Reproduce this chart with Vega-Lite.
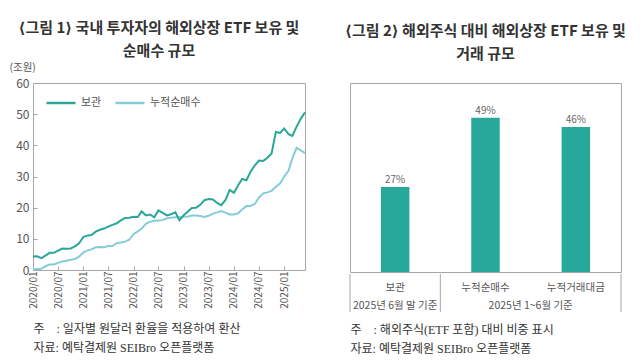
{
  "$schema": "https://vega.github.io/schema/vega-lite/v6.json",
  "background": "white",
  "padding": {"left": 8, "top": 20, "right": 4, "bottom": 4},
  "config": {
    "font": "Noto Sans CJK KR",
    "view": {"stroke": "#a6a6a6", "strokeWidth": 1},
    "axis": {"domain": false, "grid": false, "labelColor": "#555", "titleColor": "#555", "tickColor": "#a6a6a6"}
  },
  "spacing": 35,
  "hconcat": [
    {
      "title": {
        "text": ["⟨그림 1⟩ 국내 투자자의 해외상장 ETF 보유 및", "순매수 규모"],
        "font": "Noto Sans CJK KR, DejaVu Sans",
        "fontSize": 15, "fontWeight": "bold", "color": "#333", "lineHeight": 23,
        "anchor": "middle", "frame": "bounds", "offset": 3
      },
      "width": 272,
      "height": 187,
      "data": {"values": [
        {"month": "2020-01-01", "보관": 4.3, "누적순매수": 0.2},
        {"month": "2020-02-01", "보관": 4.4, "누적순매수": 0.3},
        {"month": "2020-03-01", "보관": 3.8, "누적순매수": 0.4},
        {"month": "2020-04-01", "보관": 4.6, "누적순매수": 1.2},
        {"month": "2020-05-01", "보관": 5.5, "누적순매수": 1.8},
        {"month": "2020-06-01", "보관": 5.5, "누적순매수": 1.8},
        {"month": "2020-07-01", "보관": 6.2, "누적순매수": 2.3},
        {"month": "2020-08-01", "보관": 6.9, "누적순매수": 2.7},
        {"month": "2020-09-01", "보관": 6.8, "누적순매수": 3.0},
        {"month": "2020-10-01", "보관": 6.9, "누적순매수": 3.3},
        {"month": "2020-11-01", "보관": 7.6, "누적순매수": 3.5},
        {"month": "2020-12-01", "보관": 8.6, "누적순매수": 4.3},
        {"month": "2021-01-01", "보관": 10.6, "누적순매수": 5.6},
        {"month": "2021-02-01", "보관": 11.1, "누적순매수": 6.3},
        {"month": "2021-03-01", "보관": 11.2, "누적순매수": 6.6},
        {"month": "2021-04-01", "보관": 12.3, "누적순매수": 7.3},
        {"month": "2021-05-01", "보관": 12.9, "누적순매수": 7.4},
        {"month": "2021-06-01", "보관": 13.3, "누적순매수": 7.3},
        {"month": "2021-07-01", "보관": 13.9, "누적순매수": 7.7},
        {"month": "2021-08-01", "보관": 14.5, "누적순매수": 7.7},
        {"month": "2021-09-01", "보관": 15.0, "누적순매수": 8.6},
        {"month": "2021-10-01", "보관": 15.9, "누적순매수": 8.8},
        {"month": "2021-11-01", "보관": 16.7, "누적순매수": 9.1},
        {"month": "2021-12-01", "보관": 16.8, "누적순매수": 9.7},
        {"month": "2022-01-01", "보관": 17.1, "누적순매수": 11.5},
        {"month": "2022-02-01", "보관": 17.0, "누적순매수": 12.4},
        {"month": "2022-03-01", "보관": 18.8, "누적순매수": 13.3},
        {"month": "2022-04-01", "보관": 17.5, "누적순매수": 14.8},
        {"month": "2022-05-01", "보관": 17.8, "누적순매수": 15.5},
        {"month": "2022-06-01", "보관": 16.9, "누적순매수": 15.8},
        {"month": "2022-07-01", "보관": 19.1, "누적순매수": 15.9},
        {"month": "2022-08-01", "보관": 18.3, "누적순매수": 16.0},
        {"month": "2022-09-01", "보관": 17.5, "누적순매수": 16.6},
        {"month": "2022-10-01", "보관": 17.9, "누적순매수": 16.8},
        {"month": "2022-11-01", "보관": 18.5, "누적순매수": 16.9},
        {"month": "2022-12-01", "보관": 16.0, "누적순매수": 16.9},
        {"month": "2023-01-01", "보관": 17.6, "누적순매수": 17.1},
        {"month": "2023-02-01", "보관": 18.8, "누적순매수": 17.2},
        {"month": "2023-03-01", "보관": 19.9, "누적순매수": 17.5},
        {"month": "2023-04-01", "보관": 20.0, "누적순매수": 17.5},
        {"month": "2023-05-01", "보관": 20.9, "누적순매수": 17.3},
        {"month": "2023-06-01", "보관": 22.4, "누적순매수": 17.0},
        {"month": "2023-07-01", "보관": 22.8, "누적순매수": 17.4},
        {"month": "2023-08-01", "보관": 22.6, "누적순매수": 18.1},
        {"month": "2023-09-01", "보관": 21.5, "누적순매수": 18.5},
        {"month": "2023-10-01", "보관": 20.8, "누적순매수": 18.9},
        {"month": "2023-11-01", "보관": 22.5, "누적순매수": 18.4},
        {"month": "2023-12-01", "보관": 25.7, "누적순매수": 17.8},
        {"month": "2024-01-01", "보관": 24.8, "누적순매수": 17.8},
        {"month": "2024-02-01", "보관": 27.2, "누적순매수": 18.2},
        {"month": "2024-03-01", "보관": 29.2, "누적순매수": 19.4},
        {"month": "2024-04-01", "보관": 28.8, "누적순매수": 20.5},
        {"month": "2024-05-01", "보관": 31.5, "누적순매수": 20.5},
        {"month": "2024-06-01", "보관": 33.6, "누적순매수": 21.2},
        {"month": "2024-07-01", "보관": 35.1, "누적순매수": 23.2},
        {"month": "2024-08-01", "보관": 35.0, "누적순매수": 24.6},
        {"month": "2024-09-01", "보관": 36.0, "누적순매수": 24.9},
        {"month": "2024-10-01", "보관": 37.4, "누적순매수": 25.4},
        {"month": "2024-11-01", "보관": 44.3, "누적순매수": 26.7},
        {"month": "2024-12-01", "보관": 44.0, "누적순매수": 27.7},
        {"month": "2025-01-01", "보관": 45.4, "누적순매수": 30.0},
        {"month": "2025-02-01", "보관": 43.6, "누적순매수": 31.8},
        {"month": "2025-03-01", "보관": 43.0, "누적순매수": 35.8},
        {"month": "2025-04-01", "보관": 46.0, "누적순매수": 39.2},
        {"month": "2025-05-01", "보관": 48.5, "누적순매수": 38.4},
        {"month": "2025-06-01", "보관": 50.6, "누적순매수": 37.5}
      ]},
      "transform": [{"fold": ["누적순매수", "보관"], "as": ["series", "value"]}],
      "mark": {"type": "line", "strokeWidth": 2},
      "encoding": {
        "x": {
          "field": "month", "type": "temporal",
          "scale": {"type": "utc", "domain": [
            {"year": 2020, "month": 1, "date": 1, "utc": true},
            {"year": 2025, "month": 6, "date": 1, "utc": true}
          ]},
          "axis": {
            "values": [
              {"year": 2020, "month": 1, "date": 1, "utc": true},
              {"year": 2020, "month": 7, "date": 1, "utc": true},
              {"year": 2021, "month": 1, "date": 1, "utc": true},
              {"year": 2021, "month": 7, "date": 1, "utc": true},
              {"year": 2022, "month": 1, "date": 1, "utc": true},
              {"year": 2022, "month": 7, "date": 1, "utc": true},
              {"year": 2023, "month": 1, "date": 1, "utc": true},
              {"year": 2023, "month": 7, "date": 1, "utc": true},
              {"year": 2024, "month": 1, "date": 1, "utc": true},
              {"year": 2024, "month": 7, "date": 1, "utc": true},
              {"year": 2025, "month": 1, "date": 1, "utc": true}
            ],
            "labelExpr": "utcFormat(datum.value, '%Y/%m')",
            "labelAngle": -90, "labelFontSize": 10, "labelPadding": 5,
            "tickSize": -4, "labelFlush": false, "labelOverlap": false,
            "title": ["주\u00a0\u00a0\u00a0\u00a0: 일자별 원달러 환율을 적용하여 환산", "자료: 예탁결제원 SEIBro 오픈플랫폼"],
            "titleAnchor": "start", "titleAlign": "left", "titleFontSize": 12,
            "titleFontWeight": "normal", "titleColor": "#333", "titleLineHeight": 19,
            "titlePadding": 15, "titleFont": "Liberation Serif, Noto Sans CJK KR"
          }
        },
        "y": {
          "field": "value", "type": "quantitative",
          "scale": {"domain": [0, 60], "nice": false},
          "axis": {
            "values": [0, 10, 20, 30, 40, 50, 60],
            "labelFontSize": 12, "labelPadding": 8, "tickSize": -4,
            "title": "(조원)", "titleAngle": 0, "titleX": -24, "titleY": -16,
            "titleAlign": "left", "titleBaseline": "middle",
            "titleFontSize": 10.5, "titleFontWeight": "normal"
          }
        },
        "color": {
          "field": "series", "type": "nominal",
          "scale": {"domain": ["보관", "누적순매수"], "range": ["#2aa69a", "#84cdd8"]},
          "legend": {
            "orient": "none", "legendX": 12, "legendY": 4, "direction": "horizontal",
            "title": null, "symbolType": "stroke", "symbolSize": 841, "symbolStrokeWidth": 2.5,
            "labelFontSize": 11, "labelColor": "#555", "columnPadding": 8, "labelOffset": 4
          }
        }
      }
    },
    {
      "title": {
        "text": ["⟨그림 2⟩ 해외주식 대비 해외상장 ETF 보유 및", "거래 규모"],
        "font": "Noto Sans CJK KR, DejaVu Sans",
        "fontSize": 15, "fontWeight": "bold", "color": "#333", "lineHeight": 23,
        "anchor": "middle", "offset": 21
      },
      "spacing": 0,
      "vconcat": [
        {
          "width": 271,
          "height": 189,
          "data": {"values": [
            {"category": "보관", "share": 0.27},
            {"category": "누적순매수", "share": 0.49},
            {"category": "누적거래대금", "share": 0.46}
          ]},
          "encoding": {
            "x": {"field": "category", "type": "nominal", "sort": null,
                  "scale": {"paddingInner": 0, "paddingOuter": 0}, "axis": null},
            "y": {"field": "share", "type": "quantitative",
                  "scale": {"domain": [0, 0.6], "nice": false}, "axis": null}
          },
          "layer": [
            {"mark": {"type": "bar", "color": "#28a89b", "size": 28.5}},
            {"mark": {"type": "text", "dy": -7, "fontSize": 10, "color": "#666"},
             "encoding": {"text": {"field": "share", "type": "quantitative", "format": ".0%"}}}
          ]
        },
        {
          "width": 271,
          "height": 38,
          "view": {"stroke": null},
          "layer": [
            {
              "data": {"values": [{"edge": 0}, {"edge": 1}, {"edge": 3}]},
              "mark": {"type": "rule", "color": "#a6a6a6"},
              "encoding": {
                "x": {"field": "edge", "type": "quantitative", "scale": {"domain": [0, 3], "nice": false},
                  "axis": {
                    "domain": false, "ticks": false, "labels": false,
                    "title": ["주\u00a0\u00a0\u00a0\u00a0: 해외주식(ETF 포함) 대비 비중 표시", "자료: 예탁결제원 SEIBro 오픈플랫폼"],
                    "titleAnchor": "start", "titleAlign": "left", "titleFontSize": 12,
                    "titleFontWeight": "normal", "titleColor": "#333", "titleLineHeight": 19,
                    "titlePadding": 12, "titleFont": "Liberation Serif, Noto Sans CJK KR"
                  }
                }
              }
            },
            {
              "data": {"values": [
                {"column": 0.5, "row": 1, "label": "보관"},
                {"column": 1.5, "row": 1, "label": "누적순매수"},
                {"column": 2.5, "row": 1, "label": "누적거래대금"},
                {"column": 0.5, "row": 2, "label": "2025년 6월 말 기준"},
                {"column": 2.0, "row": 2, "label": "2025년 1~6월 기준"}
              ]},
              "mark": {"type": "text", "fontSize": 10.5, "color": "#555", "baseline": "middle"},
              "encoding": {
                "x": {"field": "column", "type": "quantitative"},
                "y": {"field": "row", "type": "quantitative",
                      "scale": {"domain": [0.25, 2.35], "reverse": true, "nice": false, "zero": false}, "axis": null},
                "text": {"field": "label"}
              }
            }
          ]
        }
      ]
    }
  ]
}
